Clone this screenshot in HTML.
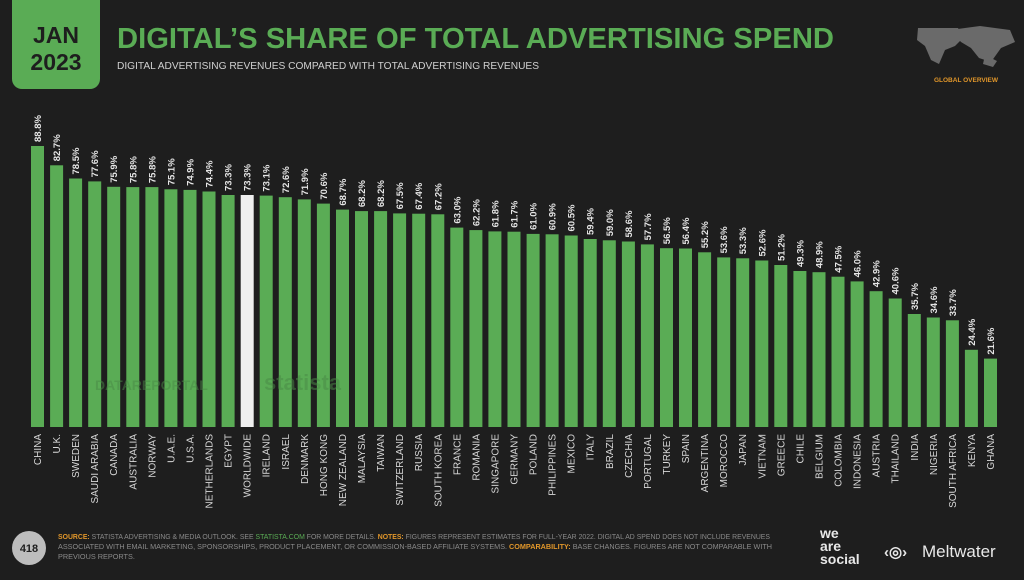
<!DOCTYPE html>
<html><head><meta charset="utf-8"><style>
body{margin:0;background:#1e1e1e;width:1024px;height:575px;overflow:hidden;font-family:"Liberation Sans",sans-serif}
.v{font:bold 9.5px "Liberation Sans Narrow","Liberation Sans",sans-serif;fill:#e6e6e6}
.c{font:10px "Liberation Sans",sans-serif;fill:#d8d8d8}
.b{fill:#5aac55}
</style></head><body>
<svg width="1024" height="575" xmlns="http://www.w3.org/2000/svg">
<rect x="12" y="-10" width="88" height="99" rx="10" fill="#5aac55"/>
<text x="56" y="43" text-anchor="middle" font-family="Liberation Sans" font-weight="bold" font-size="23" fill="#1e1e1e">JAN</text>
<text x="56" y="70" text-anchor="middle" font-family="Liberation Sans" font-weight="bold" font-size="23" fill="#1e1e1e">2023</text>
<text x="117" y="48" font-family="Liberation Sans" font-weight="bold" font-size="29" fill="#5aac55" textLength="717" lengthAdjust="spacingAndGlyphs">DIGITAL’S SHARE OF TOTAL ADVERTISING SPEND</text>
<text x="117" y="69" font-family="Liberation Sans" font-size="10.5" fill="#d0d0d0" textLength="422" lengthAdjust="spacingAndGlyphs">DIGITAL ADVERTISING REVENUES COMPARED WITH TOTAL ADVERTISING REVENUES</text>
<g fill="#6a6a6a"><path d="M918 28h40l5 10-8 8-10 4-6 14-8-4-6-14-8-6z"/><path d="M950 30l30-4 30 4 5 12-14 6-10 14-12-4-8-10-10-6z"/><path d="M985 55l12 6-4 6-10-3z"/></g>
<text x="966" y="82" text-anchor="middle" font-family="Liberation Sans" font-weight="bold" font-size="6.5" fill="#e0962a">GLOBAL OVERVIEW</text>
<g class="b">
<rect x="31" y="146" width="13" height="281"/><rect x="50.1" y="165.3" width="13" height="261.7"/><rect x="69.1" y="178.5" width="13" height="248.5"/><rect x="88.2" y="181.4" width="13" height="245.6"/><rect x="107.2" y="186.8" width="13" height="240.2"/><rect x="126.3" y="187.1" width="13" height="239.9"/><rect x="145.4" y="187.1" width="13" height="239.9"/><rect x="164.4" y="189.3" width="13" height="237.7"/><rect x="183.5" y="189.9" width="13" height="237.1"/><rect x="202.5" y="191.5" width="13" height="235.5"/><rect x="221.6" y="195" width="13" height="232"/><rect x="240.7" y="195" width="13" height="232" fill="#efefef"/><rect x="259.7" y="195.6" width="13" height="231.4"/><rect x="278.8" y="197.2" width="13" height="229.8"/><rect x="297.8" y="199.4" width="13" height="227.6"/><rect x="316.9" y="203.6" width="13" height="223.4"/><rect x="336" y="209.6" width="13" height="217.4"/><rect x="355" y="211.1" width="13" height="215.9"/><rect x="374.1" y="211.1" width="13" height="215.9"/><rect x="393.1" y="213.4" width="13" height="213.6"/><rect x="412.2" y="213.7" width="13" height="213.3"/><rect x="431.3" y="214.3" width="13" height="212.7"/><rect x="450.3" y="227.6" width="13" height="199.4"/><rect x="469.4" y="230.1" width="13" height="196.9"/><rect x="488.4" y="231.4" width="13" height="195.6"/><rect x="507.5" y="231.7" width="13" height="195.3"/><rect x="526.6" y="233.9" width="13" height="193.1"/><rect x="545.6" y="234.3" width="13" height="192.7"/><rect x="564.7" y="235.5" width="13" height="191.5"/><rect x="583.7" y="239" width="13" height="188"/><rect x="602.8" y="240.3" width="13" height="186.7"/><rect x="621.9" y="241.5" width="13" height="185.5"/><rect x="640.9" y="244.4" width="13" height="182.6"/><rect x="660" y="248.2" width="13" height="178.8"/><rect x="679" y="248.5" width="13" height="178.5"/><rect x="698.1" y="252.3" width="13" height="174.7"/><rect x="717.2" y="257.4" width="13" height="169.6"/><rect x="736.2" y="258.3" width="13" height="168.7"/><rect x="755.3" y="260.5" width="13" height="166.5"/><rect x="774.3" y="265" width="13" height="162"/><rect x="793.4" y="271" width="13" height="156"/><rect x="812.5" y="272.2" width="13" height="154.8"/><rect x="831.5" y="276.7" width="13" height="150.3"/><rect x="850.6" y="281.4" width="13" height="145.6"/><rect x="869.6" y="291.2" width="13" height="135.8"/><rect x="888.7" y="298.5" width="13" height="128.5"/><rect x="907.8" y="314" width="13" height="113"/><rect x="926.8" y="317.5" width="13" height="109.5"/><rect x="945.9" y="320.3" width="13" height="106.7"/><rect x="964.9" y="349.8" width="13" height="77.2"/><rect x="984" y="358.6" width="13" height="68.4"/>
</g>
<g class="v">
<text transform="translate(41,142) rotate(-90)">88.8%</text><text transform="translate(60.1,161.3) rotate(-90)">82.7%</text><text transform="translate(79.1,174.5) rotate(-90)">78.5%</text><text transform="translate(98.2,177.4) rotate(-90)">77.6%</text><text transform="translate(117.2,182.8) rotate(-90)">75.9%</text><text transform="translate(136.3,183.1) rotate(-90)">75.8%</text><text transform="translate(155.4,183.1) rotate(-90)">75.8%</text><text transform="translate(174.4,185.3) rotate(-90)">75.1%</text><text transform="translate(193.5,185.9) rotate(-90)">74.9%</text><text transform="translate(212.5,187.5) rotate(-90)">74.4%</text><text transform="translate(231.6,191) rotate(-90)">73.3%</text><text transform="translate(250.7,191) rotate(-90)">73.3%</text><text transform="translate(269.7,191.6) rotate(-90)">73.1%</text><text transform="translate(288.8,193.2) rotate(-90)">72.6%</text><text transform="translate(307.8,195.4) rotate(-90)">71.9%</text><text transform="translate(326.9,199.6) rotate(-90)">70.6%</text><text transform="translate(346,205.6) rotate(-90)">68.7%</text><text transform="translate(365,207.1) rotate(-90)">68.2%</text><text transform="translate(384.1,207.1) rotate(-90)">68.2%</text><text transform="translate(403.1,209.4) rotate(-90)">67.5%</text><text transform="translate(422.2,209.7) rotate(-90)">67.4%</text><text transform="translate(441.3,210.3) rotate(-90)">67.2%</text><text transform="translate(460.3,223.6) rotate(-90)">63.0%</text><text transform="translate(479.4,226.1) rotate(-90)">62.2%</text><text transform="translate(498.4,227.4) rotate(-90)">61.8%</text><text transform="translate(517.5,227.7) rotate(-90)">61.7%</text><text transform="translate(536.6,229.9) rotate(-90)">61.0%</text><text transform="translate(555.6,230.3) rotate(-90)">60.9%</text><text transform="translate(574.7,231.5) rotate(-90)">60.5%</text><text transform="translate(593.7,235) rotate(-90)">59.4%</text><text transform="translate(612.8,236.3) rotate(-90)">59.0%</text><text transform="translate(631.9,237.5) rotate(-90)">58.6%</text><text transform="translate(650.9,240.4) rotate(-90)">57.7%</text><text transform="translate(670,244.2) rotate(-90)">56.5%</text><text transform="translate(689,244.5) rotate(-90)">56.4%</text><text transform="translate(708.1,248.3) rotate(-90)">55.2%</text><text transform="translate(727.2,253.4) rotate(-90)">53.6%</text><text transform="translate(746.2,254.3) rotate(-90)">53.3%</text><text transform="translate(765.3,256.5) rotate(-90)">52.6%</text><text transform="translate(784.3,261) rotate(-90)">51.2%</text><text transform="translate(803.4,267) rotate(-90)">49.3%</text><text transform="translate(822.5,268.2) rotate(-90)">48.9%</text><text transform="translate(841.5,272.7) rotate(-90)">47.5%</text><text transform="translate(860.6,277.4) rotate(-90)">46.0%</text><text transform="translate(879.6,287.2) rotate(-90)">42.9%</text><text transform="translate(898.7,294.5) rotate(-90)">40.6%</text><text transform="translate(917.8,310) rotate(-90)">35.7%</text><text transform="translate(936.8,313.5) rotate(-90)">34.6%</text><text transform="translate(955.9,316.3) rotate(-90)">33.7%</text><text transform="translate(974.9,345.8) rotate(-90)">24.4%</text><text transform="translate(994,354.6) rotate(-90)">21.6%</text>
</g>
<g class="c" text-anchor="end">
<text transform="translate(41,434) rotate(-90)">CHINA</text><text transform="translate(60.1,434) rotate(-90)">U.K.</text><text transform="translate(79.1,434) rotate(-90)">SWEDEN</text><text transform="translate(98.2,434) rotate(-90)">SAUDI ARABIA</text><text transform="translate(117.2,434) rotate(-90)">CANADA</text><text transform="translate(136.3,434) rotate(-90)">AUSTRALIA</text><text transform="translate(155.4,434) rotate(-90)">NORWAY</text><text transform="translate(174.4,434) rotate(-90)">U.A.E.</text><text transform="translate(193.5,434) rotate(-90)">U.S.A.</text><text transform="translate(212.5,434) rotate(-90)">NETHERLANDS</text><text transform="translate(231.6,434) rotate(-90)">EGYPT</text><text transform="translate(250.7,434) rotate(-90)">WORLDWIDE</text><text transform="translate(269.7,434) rotate(-90)">IRELAND</text><text transform="translate(288.8,434) rotate(-90)">ISRAEL</text><text transform="translate(307.8,434) rotate(-90)">DENMARK</text><text transform="translate(326.9,434) rotate(-90)">HONG KONG</text><text transform="translate(346,434) rotate(-90)">NEW ZEALAND</text><text transform="translate(365,434) rotate(-90)">MALAYSIA</text><text transform="translate(384.1,434) rotate(-90)">TAIWAN</text><text transform="translate(403.1,434) rotate(-90)">SWITZERLAND</text><text transform="translate(422.2,434) rotate(-90)">RUSSIA</text><text transform="translate(441.3,434) rotate(-90)">SOUTH KOREA</text><text transform="translate(460.3,434) rotate(-90)">FRANCE</text><text transform="translate(479.4,434) rotate(-90)">ROMANIA</text><text transform="translate(498.4,434) rotate(-90)">SINGAPORE</text><text transform="translate(517.5,434) rotate(-90)">GERMANY</text><text transform="translate(536.6,434) rotate(-90)">POLAND</text><text transform="translate(555.6,434) rotate(-90)">PHILIPPINES</text><text transform="translate(574.7,434) rotate(-90)">MEXICO</text><text transform="translate(593.7,434) rotate(-90)">ITALY</text><text transform="translate(612.8,434) rotate(-90)">BRAZIL</text><text transform="translate(631.9,434) rotate(-90)">CZECHIA</text><text transform="translate(650.9,434) rotate(-90)">PORTUGAL</text><text transform="translate(670,434) rotate(-90)">TURKEY</text><text transform="translate(689,434) rotate(-90)">SPAIN</text><text transform="translate(708.1,434) rotate(-90)">ARGENTINA</text><text transform="translate(727.2,434) rotate(-90)">MOROCCO</text><text transform="translate(746.2,434) rotate(-90)">JAPAN</text><text transform="translate(765.3,434) rotate(-90)">VIETNAM</text><text transform="translate(784.3,434) rotate(-90)">GREECE</text><text transform="translate(803.4,434) rotate(-90)">CHILE</text><text transform="translate(822.5,434) rotate(-90)">BELGIUM</text><text transform="translate(841.5,434) rotate(-90)">COLOMBIA</text><text transform="translate(860.6,434) rotate(-90)">INDONESIA</text><text transform="translate(879.6,434) rotate(-90)">AUSTRIA</text><text transform="translate(898.7,434) rotate(-90)">THAILAND</text><text transform="translate(917.8,434) rotate(-90)">INDIA</text><text transform="translate(936.8,434) rotate(-90)">NIGERIA</text><text transform="translate(955.9,434) rotate(-90)">SOUTH AFRICA</text><text transform="translate(974.9,434) rotate(-90)">KENYA</text><text transform="translate(994,434) rotate(-90)">GHANA</text>
</g>
<text x="95" y="390" font-family="Liberation Sans" font-weight="bold" font-size="14" fill="#4a8a46" opacity="0.5">DATAREPORTAL</text>
<text x="264" y="390" font-family="Liberation Sans" font-weight="bold" font-size="22" fill="#4a8a46" opacity="0.5">statista</text>
<circle cx="29" cy="548" r="17" fill="#bdbdbd"/>
<text x="29" y="552" text-anchor="middle" font-family="Liberation Sans" font-weight="bold" font-size="11" fill="#1e1e1e">418</text>
<g font-family="Liberation Sans" font-size="7.3" fill="#8a8a8a">
<text x="58" y="539" textLength="712" lengthAdjust="spacingAndGlyphs"><tspan fill="#e0962a" font-weight="bold">SOURCE:</tspan> STATISTA ADVERTISING &amp; MEDIA OUTLOOK. SEE <tspan fill="#5aac55">STATISTA.COM</tspan> FOR MORE DETAILS. <tspan fill="#e0962a" font-weight="bold">NOTES:</tspan> FIGURES REPRESENT ESTIMATES FOR FULL-YEAR 2022. DIGITAL AD SPEND DOES NOT INCLUDE REVENUES</text>
<text x="58" y="549" textLength="714" lengthAdjust="spacingAndGlyphs">ASSOCIATED WITH EMAIL MARKETING, SPONSORSHIPS, PRODUCT PLACEMENT, OR COMMISSION-BASED AFFILIATE SYSTEMS. <tspan fill="#e0962a" font-weight="bold">COMPARABILITY:</tspan> BASE CHANGES. FIGURES ARE NOT COMPARABLE WITH</text>
<text x="58" y="559">PREVIOUS REPORTS.</text>
</g>
<g font-family="Liberation Sans" font-weight="bold" font-size="14" fill="#e8e8e8">
<text x="820" y="538">we</text><text x="820" y="551">are</text><text x="820" y="564">social</text>
</g>
<text x="884" y="557" font-family="Liberation Sans" font-weight="bold" font-size="15" fill="#e8e8e8">‹◎›</text>
<text x="922" y="557" font-family="Liberation Sans" font-size="17" fill="#e8e8e8">Meltwater</text>
</svg>
</body></html>
